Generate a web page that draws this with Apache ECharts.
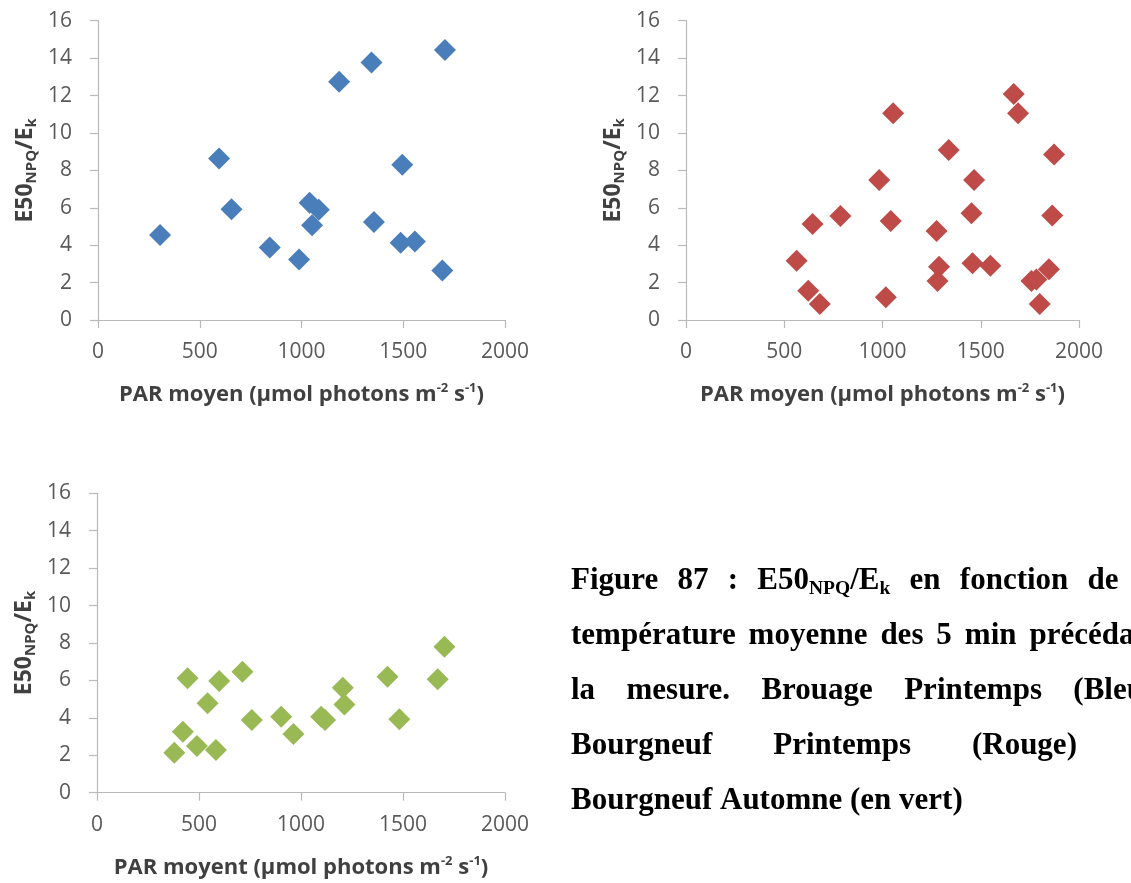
<!DOCTYPE html>
<html><head><meta charset="utf-8">
<script src="https://cdn.jsdelivr.net/npm/echarts@6/dist/echarts.min.js"></script>
<style>html,body{margin:0;padding:0;background:#fff;} #c{width:1131px;height:883px;}</style>
</head><body><div id="c"></div><script>
// ---- data ----
const xTicks = [0, 500, 1000, 1500, 2000];
const yTicks = [0, 2, 4, 6, 8, 10, 12, 14, 16];

const blueX = [305, 595, 656, 844, 988, 1040, 1052, 1085, 1185, 1344, 1356, 1495, 1487, 1557, 1705, 1692];
const blueY = [4.55, 8.64, 5.92, 3.88, 3.24, 6.27, 5.06, 5.9, 12.74, 13.76, 5.24, 8.3, 4.13, 4.2, 14.43, 2.64];

const redX = [563, 622, 681, 644, 786, 983, 1017, 1042, 1054, 1275, 1288, 1280, 1337, 1453, 1466, 1458, 1549, 1668, 1690, 1758, 1783, 1800, 1847, 1873, 1864];
const redY = [3.17, 1.57, 0.86, 5.13, 5.56, 7.48, 1.21, 5.29, 11.05, 4.76, 2.85, 2.08, 9.09, 5.70, 7.48, 3.03, 2.90, 12.08, 11.05, 2.08, 2.17, 0.86, 2.71, 8.85, 5.58];

const greenX = [379, 421, 444, 490, 542, 583, 599, 713, 759, 903, 963, 1099, 1118, 1205, 1213, 1424, 1482, 1670, 1703];
const greenY = [2.14, 3.26, 6.11, 2.49, 4.78, 2.28, 5.97, 6.47, 3.88, 4.06, 3.14, 4.06, 3.88, 5.61, 4.72, 6.20, 3.92, 6.06, 7.80];

const xNames = ['PAR moyen (µmol photons m', 'PAR moyen (µmol photons m', 'PAR moyent (µmol photons m'];
const captionLines = [
  ['Figure', '87', ':', 'E50{NPQ}/E{k}', 'en', 'fonction', 'de', 'la'],
  ['température', 'moyenne', 'des', '5', 'min', 'précédant'],
  ['la', 'mesure.', 'Brouage', 'Printemps', '(Bleu),'],
  ['Bourgneuf', 'Printemps', '(Rouge)', 'et'],
  ['Bourgneuf', 'Automne', '(en', 'vert)']
];

// ---- chart ----
const AX = '#b9b9b9', LBL = '#595959', TTL = '#404040', FF = "'Open Sans'";
const grids = [
  {left: 98, top: 20.7, width: 407, height: 299.3},
  {left: 686, top: 20.7, width: 393, height: 299.3},
  {left: 97, top: 493.3, width: 408, height: 299.4}
];
function xAxis(i) {
  return {
    type: 'value', gridIndex: i, min: xTicks[0], max: xTicks[xTicks.length - 1], interval: xTicks[1] - xTicks[0],
    axisLine: {show: true, lineStyle: {color: AX, width: 1.2}},
    axisTick: {show: true, inside: false, length: 8, lineStyle: {color: AX, width: 1.2}},
    splitLine: {show: false},
    axisLabel: {color: LBL, fontSize: 21, fontFamily: FF, margin: 22, formatter: v => String(v)},
    name: '{b|' + xNames[i] + '}{sup|-2}{b| s}{sup|-1}{b|)}',
    nameLocation: 'middle', nameGap: 62,
    nameTextStyle: {rich: {
      b: {fontFamily: FF, fontWeight: 'bold', fontSize: 22, color: TTL, lineHeight: 26},
      sup: {fontFamily: FF, fontWeight: 'bold', fontSize: 13, color: TTL, lineHeight: 15, verticalAlign: 'top'}
    }}
  };
}
function yAxis(i) {
  return {
    type: 'value', gridIndex: i, min: yTicks[0], max: yTicks[yTicks.length - 1], interval: yTicks[1] - yTicks[0],
    axisLine: {show: true, lineStyle: {color: AX, width: 1.2}},
    axisTick: {show: true, inside: false, length: 8, lineStyle: {color: AX, width: 1.2}},
    splitLine: {show: false},
    axisLabel: {color: LBL, fontSize: 21, fontFamily: FF, margin: 26, formatter: v => String(v)},
    name: '{b|E50}{s|NPQ}{b|/E}{s|k}',
    nameLocation: 'middle', nameGap: 59, nameRotate: 90,
    nameTextStyle: {rich: {
      b: {fontFamily: FF, fontWeight: 'bold', fontSize: 23, color: TTL, lineHeight: 28},
      s: {fontFamily: FF, fontWeight: 'bold', fontSize: 15, color: TTL, lineHeight: 16, verticalAlign: 'bottom'}
    }}
  };
}
function scatter(i, xs, ys, color) {
  return {
    type: 'scatter', xAxisIndex: i, yAxisIndex: i, symbol: 'diamond', symbolSize: [22, 22],
    itemStyle: {color: color, opacity: 1}, data: xs.map((x, k) => [x, ys[k]])
  };
}

// ---- caption (justified words) ----
const ctx = document.createElement('canvas').getContext('2d');
const CF = "'Liberation Serif'";
function tw(t, size) { ctx.font = 'bold ' + size + 'px ' + CF; return ctx.measureText(t).width; }
function segs(word) {
  const out = []; const re = /\{([^}]*)\}|([^{]+)/g; let m;
  while ((m = re.exec(word))) { if (m[1] !== undefined) out.push([m[1], true]); else out.push([m[2], false]); }
  return out;
}
const MAIN = 31, SUB = 19.5, CL = 571, CR = 1162;
const baselines = [591, 646, 701, 756, 811];
const graphic = [];
captionLines.forEach((words, li) => {
  const widths = words.map(wd => segs(wd).reduce((s, sg) => s + tw(sg[0], sg[1] ? SUB : MAIN), 0));
  const sum = widths.reduce((a, b) => a + b, 0);
  const justify = li < captionLines.length - 1;
  const gap = justify ? (CR - CL - sum) / (words.length - 1) : tw(' ', MAIN);
  let x = CL;
  words.forEach((wd, wi) => {
    let sx = x;
    segs(wd).forEach(sg => {
      const size = sg[1] ? SUB : MAIN;
      graphic.push({type: 'text', x: sx, y: baselines[li] + (sg[1] ? -2.5 : -10.5), silent: true,
        style: {text: sg[0], fontFamily: CF, fontWeight: 'bold', fontSize: size, fill: '#000',
          align: 'left', verticalAlign: 'middle'}});
      sx += tw(sg[0], size);
    });
    x += widths[wi] + gap;
  });
});

const chart = echarts.init(document.getElementById('c'), null, {renderer: 'canvas'});
chart.setOption({
  backgroundColor: '#fff',
  animation: false,
  grid: grids,
  xAxis: [0, 1, 2].map(xAxis),
  yAxis: [0, 1, 2].map(yAxis),
  series: [
    scatter(0, blueX, blueY, '#4a7ebb'),
    scatter(1, redX, redY, '#be4b48'),
    scatter(2, greenX, greenY, '#98b954')
  ],
  graphic: graphic
});
</script></body></html>
